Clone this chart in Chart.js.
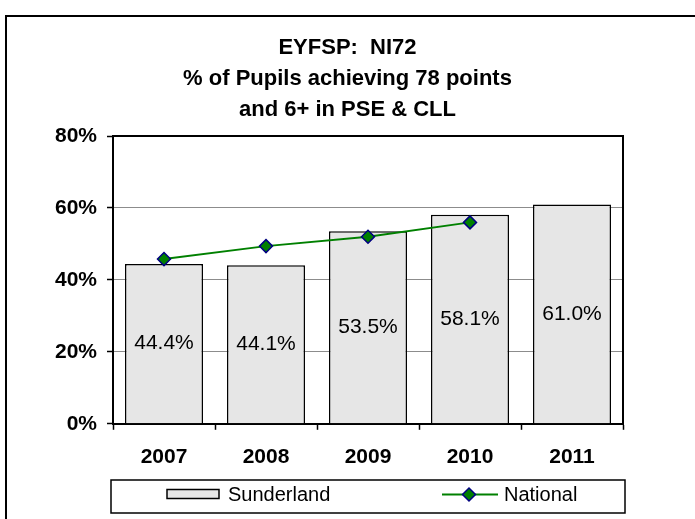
<!DOCTYPE html>
<html>
<head>
<meta charset="utf-8">
<title>EYFSP NI72</title>
<script src="https://cdn.jsdelivr.net/npm/chart.js@4/dist/chart.umd.min.js"></script>
<style>
  html, body { margin: 0; padding: 0; background: #fff; }
  #wrap { width: 695px; height: 519px; }
</style>
</head>
<body>
<div id="wrap"><canvas id="ni72"></canvas></div>
<script>
// data
const years = ["2007", "2008", "2009", "2010", "2011"];
const sunderland = [44.4, 44.1, 53.5, 58.1, 61.0];
const national = [45.8, 49.4, 52.0, 56.0, null];
const yTicks = [0, 20, 40, 60, 80];
const titleLines = ["EYFSP:  NI72", "% of Pupils achieving 78 points", "and 6+ in PSE & CLL"];

const FONT = "'Liberation Sans', Arial, Helvetica, sans-serif";
Chart.defaults.font.family = FONT;
Chart.defaults.color = "#000";

// white background + outer frame (left and top visible only)
const framePlugin = {
  id: "frame",
  beforeDraw(chart) {
    const c = chart.ctx;
    c.save();
    c.fillStyle = "#fff";
    c.fillRect(0, 0, chart.width, chart.height);
    c.strokeStyle = "#000";
    c.lineWidth = 2;
    c.beginPath();
    c.moveTo(6, chart.height);
    c.lineTo(6, 16);
    c.lineTo(chart.width, 16);
    c.stroke();
    c.restore();
  },
  afterDatasetsDraw(chart) {
    // right and top border of the plot area
    const a = chart.chartArea;
    const c = chart.ctx;
    c.save();
    c.strokeStyle = "#000";
    c.lineWidth = 2;
    c.beginPath();
    c.moveTo(a.left, a.top);
    c.lineTo(a.right, a.top);
    c.lineTo(a.right, a.bottom);
    c.stroke();
    c.restore();
  }
};

// value labels in the middle of each bar
const barLabels = {
  id: "barLabels",
  afterDatasetsDraw(chart) {
    const meta = chart.getDatasetMeta(1);
    const c = chart.ctx;
    c.save();
    c.font = "21px " + FONT;
    c.fillStyle = "#000";
    c.textAlign = "center";
    c.textBaseline = "middle";
    meta.data.forEach((bar, i) => {
      const v = chart.data.datasets[1].data[i];
      c.fillText(v.toFixed(1) + "%", bar.x, (bar.y + bar.base) / 2);
    });
    c.restore();
  }
};

// Excel-like legend box below the axis
const legendBox = {
  id: "legendBox",
  afterDraw(chart) {
    const a = chart.chartArea;
    const c = chart.ctx;
    const top = 480, h = 33, mid = top + h / 2;
    const barSet = chart.data.datasets[1];
    const lineSet = chart.data.datasets[0];
    c.save();
    c.strokeStyle = "#000";
    c.lineWidth = 1.5;
    c.strokeRect(a.left - 2, top, a.right - a.left + 4, h);

    // Sunderland swatch
    c.fillStyle = barSet.backgroundColor;
    c.fillRect(167, mid - 7, 52, 9);
    c.strokeRect(167, mid - 7, 52, 9);
    c.font = "20px " + FONT;
    c.fillStyle = "#000";
    c.textBaseline = "middle";
    c.fillText(barSet.label, 228, mid - 1);

    // National line + diamond
    c.strokeStyle = lineSet.borderColor;
    c.lineWidth = 2;
    c.beginPath();
    c.moveTo(442, mid - 2);
    c.lineTo(498, mid - 2);
    c.stroke();
    c.fillStyle = lineSet.pointBackgroundColor;
    c.strokeStyle = lineSet.pointBorderColor;
    c.lineWidth = 1.5;
    Chart.helpers.drawPoint(c, {
      pointStyle: "rectRot", radius: 6.5, rotation: 0, borderWidth: 1.5
    }, 469, mid - 2);
    c.fillStyle = "#000";
    c.fillText(lineSet.label, 504, mid - 1);
    c.restore();
  }
};

new Chart(document.getElementById("ni72"), {
  data: {
    labels: years,
    datasets: [
      {
        type: "line",
        label: "National",
        data: national,
        borderColor: "#008000",
        borderWidth: 2,
        pointStyle: "rectRot",
        pointRadius: 6.5,
        pointBackgroundColor: "#008000",
        pointBorderColor: "#000080",
        pointBorderWidth: 1.5,
        tension: 0,
        order: 0
      },
      {
        type: "bar",
        label: "Sunderland",
        data: sunderland,
        backgroundColor: "#e6e6e6",
        borderColor: "#000",
        borderWidth: 1.5,
        barPercentage: 0.765,
        categoryPercentage: 1,
        order: 1
      }
    ]
  },
  options: {
    responsive: true,
    maintainAspectRatio: false,
    animation: false,
    layout: { padding: { left: 0, right: 0, top: 0, bottom: 34 } },
    plugins: {
      legend: { display: false },
      tooltip: { enabled: false },
      title: {
        display: true,
        text: titleLines,
        color: "#000",
        font: { size: 22, weight: "bold", lineHeight: 1.41 },
        padding: { top: 32, bottom: 11 }
      }
    },
    scales: {
      x: {
        offset: true,
        grid: {
          offset: true,
          drawOnChartArea: false,
          tickLength: 6,
          tickColor: "#000",
          tickWidth: 1.5
        },
        border: { color: "#000", width: 2 },
        ticks: { font: { size: 21, weight: "bold" }, padding: 15, color: "#000" }
      },
      y: {
        min: 0,
        max: 80,
        afterBuildTicks(scale) {
          scale.ticks = yTicks.map(v => ({ value: v }));
        },
        afterFit(scale) { scale.width = 113; },
        grid: {
          color: "#8c8c8c",
          lineWidth: 1,
          tickLength: 6,
          tickColor: "#000",
          tickWidth: 1.5
        },
        border: { color: "#000", width: 2 },
        ticks: {
          font: { size: 21, weight: "bold" },
          padding: 10,
          color: "#000",
          callback: v => v + "%"
        }
      },
      // empty right-hand strip so the title stays centred on the page
      spare: {
        position: "right",
        display: true,
        grid: { display: false },
        border: { display: false },
        ticks: { display: false },
        afterFit(scale) { scale.width = 72; }
      }
    }
  },
  plugins: [framePlugin, barLabels, legendBox]
});
</script>
</body>
</html>
